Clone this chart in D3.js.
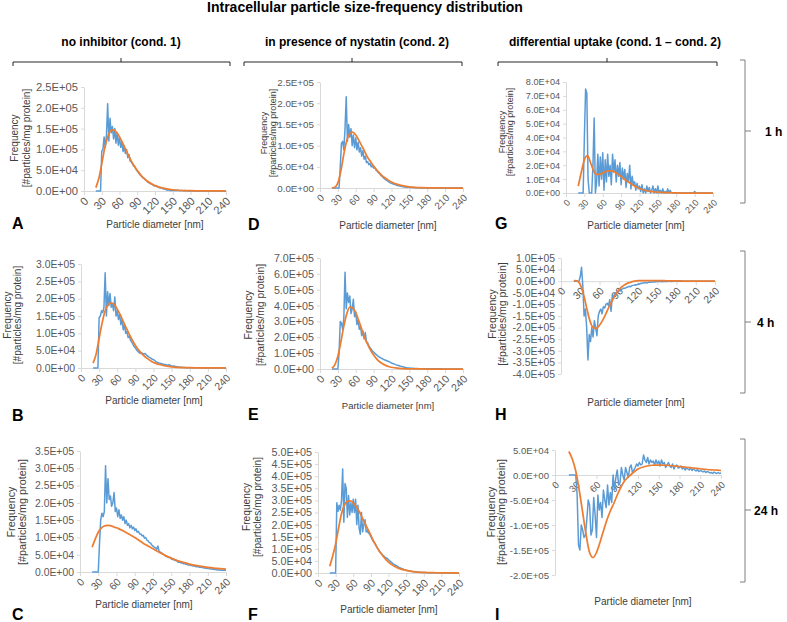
<!DOCTYPE html>
<html><head><meta charset="utf-8">
<script src="https://cdn.jsdelivr.net/npm/d3@7"></script>
<style>
body{margin:0;background:#fff}
svg{display:block}
text{font-family:"Liberation Sans",Arial,Helvetica,sans-serif}
</style></head>
<body><svg id="chart" width="787" height="622"></svg>
<script>
// ---------------- DATA ----------------
const chartTitle = "Intracellular particle size-frequency distribution";
const columnHeaders = ["no inhibitor (cond. 1)", "in presence of nystatin (cond. 2)", "differential uptake (cond. 1 \u2013 cond. 2)"];
const rowLabels = ["1 h", "4 h", "24 h"];
const xTickValues = [0, 30, 60, 90, 120, 150, 180, 210, 240];
const xAxisTitle = "Particle diameter [nm]";
const yAxisTitle = ["Frequency", "[#particles/mg protein]"];
const unit = 1000; // values below are in thousands of particles / mg protein

// particle-size bins (nm) of the measured (blue) series
const sizeBins = d3.range(20, 241, 2);
// diameters (nm) at which the fitted (orange) curves are read
const fitSizes = [20,25,30,35,40,45,50,55,60,65,70,75,80,85,90,95,100,105,110,115,120,130,140,150,160,170,180,190,200,210,220,230,240];

// A: no inhibitor, 1 h
const measA = [0,0,0,0,0,95,100,130,105,135, 210,120,175,140,155,125,150,115,140,110, 130,105,118,95,108,90,100,80,88,72, 70,65,60,58,52,48,45,40,37,34, 31,30,26,25,21,20,18,17,15,13, 12,13,10,9,8,7,7,5,5,4, 2,3,2,1,2,1,2,1,1,2, 1,0.5,1,1.5,0.5,1,0.5,0.5,0,0.5, 0,0,0,0,0,0,0,0,0,0, 0,0,0,0,0,0,0,0,0,0, 0,0,0,0,0,0,0,0,0,0, 0];
const fitA = [8,30,65,103,130,145,147,141,130,116, 101,86,72,60,49,40,32,26,21,16.5, 13,8,5,3,1.8,1.1,0.7,0.4,0.25,0.15, 0.1,0.05,0];
// B: no inhibitor, 4 h
const measB = [0,0,0,0,0,145,150,165,160,175, 275,150,220,180,215,175,185,165,205,150, 165,140,155,125,140,110,125,100,105,88, 92,80,75,68,62,58,52,48,45,42, 44,42,40,42,38,35,32,30,28,25, 24,22,18,17,15,14,13,12,11,10, 10,9,8,10,7,6,5,6,4,4, 3,3,2,2,2,1.5,1.5,1,1,1, 1,0.5,0.5,0.5,0.5,0.5,0.5,0.5,0.5,0.5, 0.3,0.3,0.3,0.3,0.3,0.3,0.3,0.3,0.3,0.3, 0.2,0.2,0.2,0.2,0.2,0.2,0.2,0.2,0.2,0.2, 0.2];
const fitB = [14,40,85,130,165,183,188,183,170,153, 134,115,97,80,65,53,42,34,27,21, 16,10,6,3.5,2,1.3,0.8,0.5,0.3,0.2, 0.1,0.05,0];
// C: no inhibitor, 24 h
const measC = [0,0,0,0,0,0,80,150,170,160, 175,307,200,270,210,220,190,200,230,175, 185,160,180,155,165,150,160,140,150,135, 140,128,135,125,130,120,125,115,118,110, 110,105,106,98,100,92,90,85,84,78, 75,72,70,66,75,60,57,56,52,50, 47,45,44,42,43,38,36,37,33,34, 30,28,29,26,27,24,25,22,23,20, 21,19,19,17,17,16,15,16,14,14, 14,12,12,11,11,10,10,9,9,8, 8,7,7,6,6,6,5,5,5,5, 5];
const fitC = [72,95,115,127,133,135,134,131,128,124, 120,115,110,105,100,94,88,82,77,72, 67,57,48,40,33,28,23,19,16,13.5, 11.5,10,8.5];
// D: nystatin, 1 h
const measD = [0,0,0,0,0,0,0,50,105,110, 90,140,215,110,150,120,140,100,125,95, 118,90,108,85,95,75,88,68,75,60, 62,55,58,50,52,47,48,42,40,36, 34,30,28,25,22,20,18,16,14,12, 11,10,9,8,7,6,5,4.5,4,3.5, 3,2.5,2,2,1.5,1.5,1,1,1,0.5, 0.5,0.5,0.3,0.3,0,0,0,0,0,0, 0,0,0,0,0,0,0,0,0,0, 0,0,0,0,0,0,0,0,0,0, 0,0,0,0,0,0,0,0,0,0, 0];
const fitD = [0,2,12,40,80,112,128,132,125,113, 100,86,72,62,52,43,35,28,23,18, 14,8.5,5,2.8,1.5,0.8,0.4,0.2,0.1,0, 0,0,0];
// E: nystatin, 4 h
const measE = [0,0,0,0,0,0,100,300,290,250, 320,610,380,480,420,460,350,380,440,330, 360,280,310,250,270,210,240,190,230,170, 165,145,135,125,112,108,98,92,85,80, 75,70,66,62,58,55,52,49,46,42, 38,35,32,29,26,24,22,19,17,15, 13,11,10,8,7,6,5,4.5,4,3.5, 3,2.5,2.5,2,2,2,1.5,1.5,1.5,1.5, 1.5,1,1,1,1,1,1,1,1,1, 1.5,1,1,0.5,0.5,0.5,0.5,0.5,0.3,0.3, 0,0,0,0,0,0,0,0,0,0, 0];
const fitE = [5,27,80,170,270,350,390,385,355,305, 250,198,155,118,88,64,46,33,23,16, 11,5,2.5,1,0.5,0.2,0,0,0,0, 0,0,0];
// F: nystatin, 24 h
const measF = [0,0,0,0,0,0,290,255,280,260, 300,430,210,370,350,230,320,240,290,250, 305,250,305,200,280,185,160,250,170,200, 220,170,175,165,160,150,140,132,125,118, 108,100,92,86,80,74,70,66,62,60, 55,50,46,42,38,35,32,29,26,23, 21,19,17,15,14,12,10,9,8,7, 6,5.5,5,4.5,4,3.5,3,3,2.5,2.5, 2,2,2,1.5,1.5,1.5,1,1,1,1, 1,1,1,1,0.8,0.8,0.8,0.5,0.5,0.5, 0.5,0.5,0.5,0.3,0.3,0.3,0.3,0.3,0.3,0.3, 0.3];
const fitF = [28,70,120,185,245,280,297,298,290,275, 255,230,205,180,155,130,108,88,72,57, 45,28,17,11,7,4,2.5,1.5,1,0.7, 0.5,0.2,0];
// G: differential, 1 h
const measG = [0,0,0,0,0,40,75,72,10,0, 0,0,20,54,0,8,28,5,26,10, 29,2,24,8,28,12,20,6,28,15, 24,8,20,12,22,6,18,10,17,4, 14,8,20,3,12,6,8,2,7,3, 5,1,6,0,3,0,5,1,4,0, 2,5,0,3,0,5,0,2,0,3, 0,1,0,3,0,2,0,0,0,0, 0,0,0,0,0,0,0,0,0,0, 0,0,0,0,0,1,0,0,0,0, 0,0,0,0,0,0,0,0,0,0, 0];
const fitG = [5,15,24,27,22,16,13.5,13.5,14.5,15.5, 16,16,15,13.5,12,10,8.5,7,5.5,4.3, 3.2,1.8,1,0.6,0.3,0.2,0.1,0,0,0, 0,0,0];
// H: differential, 4 h
const measH = [0,0,0,0,0,20,60,-20,-150,-120, -200,-340,-230,-260,-200,-240,-170,-200,-235,-150, -130,-120,-140,-110,-115,-100,-95,-105,-80,-130, -60,-75,-50,-55,-45,-40,-42,-35,-33,-30, -30,-27,-25,-22,-24,-20,-18,-17,-15,-16, -12,-13,-10,-9,-8,-7,-6,-8,-5,-4, -5,-3,-4,-2,-3,1,-2,0,-1,-2, 0,-1,0,-1,0,0,-1,0,0,0, 0,0,0,0,0,0,0,0,0,0, 0,0,0,0,0,0,0,0,0,0, 0,0,0,0,0,0,0,0,0,0, 0];
const fitH = [2,1,-15,-55,-115,-170,-200,-203,-190,-168, -140,-110,-82,-58,-38,-24,-14,-7,-3,0, 2,3,3,2.5,2,1.5,1,0.8,0.5,0.3, 0.2,0.1,0];
// I: differential, 24 h
const measI = [0,0,0,0,0,0,-40,-140,-150,-100, -110,-125,-120,-90,-50,-60,-120,-110,-45,-80, -125,-40,-70,-55,-85,-30,-50,-65,-20,-60, -35,-55,0,-30,-5,10,-20,-15,15,0, -10,15,5,-5,15,20,5,10,15,22, 18,25,20,22,40,30,25,35,22,30, 25,28,20,30,22,28,18,30,22,25, 15,20,25,18,15,22,12,18,20,14, 15,18,12,15,10,14,12,10,14,9, 12,10,8,11,7,9,8,6,8,5, 7,6,4,5,3,6,4,3,5,3, 4];
const fitI = [47,32,8,-30,-75,-120,-155,-165,-155,-135, -112,-90,-72,-57,-40,-25,-13,-5,1,7, 12,17,19.5,20,19.5,18.5,17,15.5,14,12.5, 11,10,9];

// ---------------- LAYOUT ----------------
const colors = {measured: "#5B9BD5", fit: "#ED7D31", axis: "#D9D9D9", tick: "#595959", title: "#404040"};
const panels = [
  {id:"A", meas:measA, fit:fitA, yMin:0, yMax:250000, yStep:50000, box:[84,226,87,191], fs:11.2, yt:[14,26,138,10], xt:[155,228,10], letter:[12,229]},
  {id:"D", meas:measD, fit:fitD, yMin:0, yMax:250000, yStep:50000, box:[320,463,82,188], fs:9.8, yt:[263.5,273,133,9], xt:[388,228.5,10], letter:[248,230]},
  {id:"G", meas:measG, fit:fitG, yMin:0, yMax:80000, yStep:10000, box:[566,713,82,193], fs:9.1, yt:[501.5,510,132,9], xt:[636,228.5,10], letter:[495,229]},
  {id:"B", meas:measB, fit:fitB, yMin:0, yMax:300000, yStep:50000, box:[81,226,264,368], fs:10.4, yt:[7.5,17.5,315,10], xt:[154,403.5,10], letter:[12,421]},
  {id:"E", meas:measE, fit:fitE, yMin:0, yMax:700000, yStep:100000, box:[320,463,258,369], fs:10.7, yt:[248,260,315,10.4], xt:[388,408.5,9.5], letter:[248,420]},
  {id:"H", meas:measH, fit:fitH, yMin:-400000, yMax:100000, yStep:50000, box:[561,715,258,374], fs:10.4, yt:[492,502.5,314,10.5], xt:[636,406,10], letter:[495,420]},
  {id:"C", meas:measC, fit:fitC, yMin:0, yMax:350000, yStep:50000, box:[80,226,451,572], fs:10.4, yt:[11.7,22.5,512,10.8], xt:[144,607.5,10], letter:[12,620]},
  {id:"F", meas:measF, fit:fitF, yMin:0, yMax:500000, yStep:50000, box:[318,459,452,573], fs:10.8, yt:[246,257.5,507,10.2], xt:[389,612.5,10], letter:[248,620]},
  {id:"I", meas:measI, fit:fitI, yMin:-200000, yMax:50000, yStep:50000, box:[555,721,450,575], fs:9.6, yt:[491,501,512,10.8], xt:[643,605,10], letter:[495,620]}
];
const colBrackets = [{a:13,b:230,m:121,tx:121}, {a:244,b:462,m:352,tx:357}, {a:498,b:717,m:607,tx:615}];
const rowBrackets = [{a:60,b:203,m:131,tx:765}, {a:251,b:393,m:322,tx:757}, {a:439,b:582,m:510,tx:754}];

// ---------------- DRAW ----------------
const svg = d3.select("#chart");
svg.append("rect").attr("width",787).attr("height",622).attr("fill","#fff");

function sci(v){
  v = Math.round(v);
  if (v === 0) return "0.0E+00";
  const s = v < 0 ? "-" : "";
  const a = Math.abs(v);
  let e = Math.floor(Math.log10(a) + 1e-9);
  let m = a / Math.pow(10, e);
  if (m >= 9.95) { m /= 10; e++; }
  return s + m.toFixed(1) + "E" + (e >= 0 ? "+" : "-") + String(Math.abs(e)).padStart(2, "0");
}

svg.append("text").attr("x",365).attr("y",12).attr("text-anchor","middle")
  .attr("font-weight","bold").attr("font-size",14).attr("fill","#000").text(chartTitle);

colBrackets.forEach((c,i)=>{
  svg.append("text").attr("x",c.tx).attr("y",46).attr("text-anchor","middle")
    .attr("font-weight","bold").attr("font-size",12).attr("fill","#000").text(columnHeaders[i]);
  svg.append("path").attr("d",`M${c.a},66V62H${c.b}V66M${c.m},62V58`)
    .attr("fill","none").attr("stroke","#262626").attr("stroke-width",1);
});
rowBrackets.forEach((r,i)=>{
  svg.append("path").attr("d",`M740,${r.a}H745V${r.b}H740M745,${r.m}H751`)
    .attr("fill","none").attr("stroke","#7f7f7f").attr("stroke-width",1);
  svg.append("text").attr("x",r.tx).attr("y",r.m+4.5).attr("font-weight","bold")
    .attr("font-size",12).attr("fill","#000").text(rowLabels[i]);
});

panels.forEach(p=>{
  const [x0,x1,yT,yB] = p.box;
  const x = d3.scaleLinear().domain([0,240]).range([x0,x1]);
  const y = d3.scaleLinear().domain([p.yMin,p.yMax]).range([yB,yT]);
  const yTicks = d3.range(p.yMin, p.yMax + p.yStep/2, p.yStep);
  const g = svg.append("g");

  const ay = g.append("g").attr("transform",`translate(${x0},0)`)
    .call(d3.axisLeft(y).tickValues(yTicks).tickFormat(sci).tickSize(3).tickSizeOuter(0).tickPadding(3));
  ay.select(".domain").attr("stroke",colors.axis);
  ay.selectAll(".tick line").attr("stroke",colors.axis);
  ay.selectAll(".tick text").attr("fill",colors.tick).attr("font-size",p.fs).attr("font-family",null);

  const ax = g.append("g").attr("transform",`translate(0,${y(0)})`)
    .call(d3.axisBottom(x).tickValues(xTickValues).tickFormat(d=>String(d)).tickSize(4).tickSizeOuter(0));
  ax.select(".domain").attr("stroke",colors.axis);
  ax.selectAll(".tick line").attr("stroke",colors.axis);
  ax.selectAll(".tick text").attr("fill",colors.tick).attr("font-size",p.fs).attr("font-family",null)
    .attr("x",0).attr("y",0).attr("dy","0.35em").attr("text-anchor","end")
    .attr("transform","translate(2,8) rotate(-45)");

  const clipId = "clip"+p.id;
  g.append("clipPath").attr("id",clipId).append("rect")
    .attr("x",x0).attr("y",yT-1).attr("width",x1-x0+1).attr("height",yB-yT+2);

  const lineMeas = d3.line().x((d,i)=>x(sizeBins[i])).y(d=>y(d*unit));
  const lineFit = d3.line().x((d,i)=>x(fitSizes[i])).y(d=>y(d*unit)).curve(d3.curveMonotoneX);
  const lines = g.append("g").attr("clip-path",`url(#${clipId})`);
  lines.append("path").attr("d",lineMeas(p.meas)).attr("fill","none")
    .attr("stroke",colors.measured).attr("stroke-width",1.5).attr("stroke-linejoin","round");
  lines.append("path").attr("d",lineFit(p.fit)).attr("fill","none")
    .attr("stroke",colors.fit).attr("stroke-width",1.75).attr("stroke-linejoin","round");

  // axis titles
  const [tx1,tx2,tyc,tfs] = p.yt;
  [tx1,tx2].forEach((tx,k)=>{
    g.append("text").attr("transform",`translate(${tx},${tyc}) rotate(-90)`)
      .attr("dy","0.35em").attr("text-anchor","middle").attr("font-size",tfs)
      .attr("fill",colors.title).text(yAxisTitle[k]);
  });
  g.append("text").attr("x",p.xt[0]).attr("y",p.xt[1]).attr("text-anchor","middle")
    .attr("font-size",p.xt[2]).attr("fill",colors.title).text(xAxisTitle);
  g.append("text").attr("x",p.letter[0]).attr("y",p.letter[1]).attr("font-weight","bold")
    .attr("font-size",16).attr("fill","#000").text(p.id);
});
</script></body></html>
